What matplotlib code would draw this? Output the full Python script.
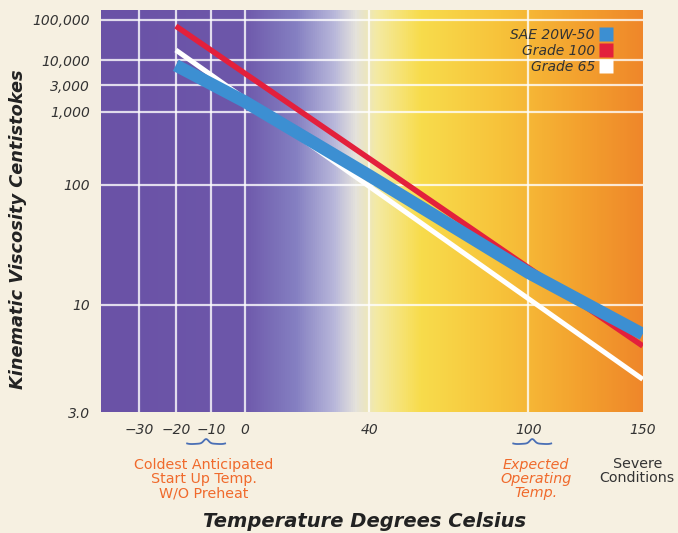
import numpy as np
import matplotlib
matplotlib.use('Agg')
import matplotlib.pyplot as plt
from matplotlib.colors import LinearSegmentedColormap
from matplotlib.lines import Line2D

# data (temperature in deg C, viscosity in cSt)
temps = [-20, 150]
grade100 = [68000, 5.9]
grade65 = [17000, 4.1]
sae_temps = [-20, 0, 40, 100, 150]
sae20w50 = [7700, 1500, 128, 16.3, 6.8]

x_ticks = [-30, -20, -10, 0, 40, 100, 150]
x_labels = ['\u221230', '\u221220', '\u221210', '0', '40', '100', '150']
y_ticks = [3.0, 10, 100, 1000, 3000, 10000, 100000]
y_labels = ['3.0', '10', '100', '1,000', '3,000', '10,000', '100,000']
x_grid = [-30, -20, -10, 0, 40, 100]
y_grid = [10, 100, 1000, 3000, 10000, 100000]


# ASTM D341 style axes: log(log(v+0.7)) vs log(absolute temperature)
def vis_fwd(v):
    v = np.clip(np.asarray(v, dtype=float), 0.35, None)
    return np.log10(np.log10(v + 0.7))


def vis_inv(y):
    return 10 ** (10 ** np.asarray(y, dtype=float)) - 0.7


def temp_fwd(t):
    t = np.clip(np.asarray(t, dtype=float), -270, None)
    return np.log10(t + 273.15)


def temp_inv(x):
    return 10 ** np.asarray(x, dtype=float) - 273.15


plt.rcParams['font.family'] = ['DejaVu Sans']
paper = '#f6f0e1'
fig = plt.figure(figsize=(6.78, 5.33), dpi=100, facecolor=paper)
pos = [0.149, 0.227, 0.799, 0.754]

# background gradient
bg = fig.add_axes(pos)
cmap = LinearSegmentedColormap.from_list('bg', [
    (0.00, '#6a52a6'), (0.26, '#6d57aa'), (0.36, '#8580c2'),
    (0.43, '#b8b7da'), (0.47, '#e4e2dc'), (0.51, '#f4eaa2'),
    (0.59, '#f8dc4c'), (0.74, '#f7c23a'), (0.89, '#f3a02e'),
    (1.00, '#ef872a')])
bg.imshow(np.linspace(0, 1, 512).reshape(1, -1), cmap=cmap, aspect='auto',
          extent=[0, 1, 0, 1])
bg.axis('off')

ax = fig.add_axes(pos)
ax.patch.set_alpha(0)
ax.set_xscale('function', functions=(temp_fwd, temp_inv))
ax.set_yscale('function', functions=(vis_fwd, vis_inv))

for t in x_grid:
    ax.axvline(t, color='white', lw=1.6, alpha=0.8, zorder=1)
for v in y_grid:
    ax.axhline(v, color='white', lw=1.6, alpha=0.8, zorder=1)

ax.plot(temps, grade65, color='white', lw=3.6, solid_capstyle='butt', zorder=3)
ax.plot(temps, grade100, color='#e3203c', lw=4.0, solid_capstyle='butt', zorder=4)
ax.plot(sae_temps, sae20w50, color='#3c8fd2', lw=9.0, solid_capstyle='butt',
        solid_joinstyle='round', zorder=5)

ax.set_xlim(-40, 150)
ax.set_ylim(3.0, 190000)
ax.set_xticks(x_ticks)
ax.set_xticklabels(x_labels)
ax.set_yticks(y_ticks)
ax.set_yticklabels(y_labels)
ax.minorticks_off()
ax.tick_params(length=0, labelsize=10, colors='#333333', pad=8)
for lab in ax.get_xticklabels() + ax.get_yticklabels():
    lab.set_fontstyle('italic')
for s in ax.spines.values():
    s.set_visible(False)

handles = [Line2D([], [], marker='s', ls='', markersize=10, color=c,
                  markeredgecolor='none')
           for c in ['#3c8fd2', '#e3203c', 'white']]
leg = ax.legend(handles, ['SAE 20W-50', 'Grade 100', 'Grade 65'],
                loc='upper right', bbox_to_anchor=(0.945, 0.955),
                frameon=False, markerfirst=False, borderpad=0,
                borderaxespad=0, handletextpad=0.3, labelspacing=0.12,
                handlelength=1.0, fontsize=10)
for txt in leg.get_texts():
    txt.set_fontstyle('italic')
    txt.set_color('#333333')

fig.text(0.027, 0.57, 'Kinematic Viscosity Centistokes', rotation=90,
         ha='center', va='center', fontsize=12.8, fontweight='bold',
         fontstyle='italic', color='#222222')
fig.text(0.538, 0.022, 'Temperature Degrees Celsius', ha='center',
         va='center', fontsize=14, fontweight='bold', fontstyle='italic',
         color='#222222')

orange = '#f06a2c'
fig.text(0.301, 0.101, 'Coldest Anticipated\nStart Up Temp.\nW/O Preheat',
         ha='center', va='center', fontsize=10.3, color=orange, linespacing=1.0)
fig.text(0.790, 0.101, 'Expected\nOperating\nTemp.', ha='center',
         va='center', fontsize=10.3, fontstyle='italic', color=orange,
         linespacing=1.0)
fig.text(0.940, 0.117, 'Severe\nConditions', ha='center', va='center',
         fontsize=10.3, color='#333333', linespacing=1.0)


# small blue brace marks under the highlighted temperatures (drawn shape)
def brace(cx, cy, w=0.056, h=0.011):
    s = np.linspace(-1, 1, 60)
    ys = 0.75 * np.exp(-(s / 0.18) ** 2) - 0.25 * s ** 2 + 0.25 * np.abs(s) ** 6
    fig.add_artist(Line2D(cx + s * w / 2, cy + ys * h, color='#4a6fb5',
                          lw=1.3, transform=fig.transFigure))


brace(0.304, 0.168)
brace(0.785, 0.168)

fig.savefig('out.png', dpi=100, facecolor=paper)
